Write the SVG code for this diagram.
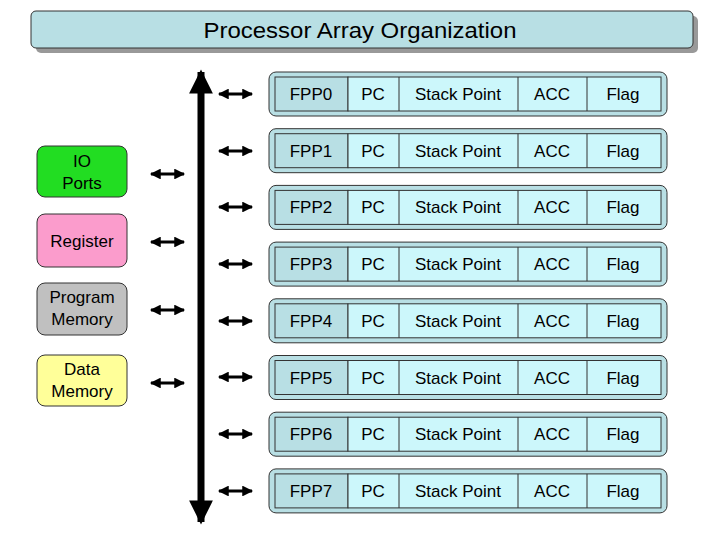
<svg xmlns="http://www.w3.org/2000/svg" width="720" height="540" viewBox="0 0 720 540">
<defs>
<style>
text{font-family:"Liberation Sans",Arial,sans-serif;fill:#000}
.row{fill:#b8dfe4;stroke:#333;stroke-width:1}
.in{fill:#ccf7fb;stroke:#333;stroke-width:1}
.id{fill:#b8dfe4;stroke:#333;stroke-width:1}
.c{font-size:17px;text-anchor:middle}
.l{font-size:17px;text-anchor:middle}
.lb{stroke:#333;stroke-width:1}
.a{stroke:#000;stroke-width:3;marker-start:url(#h);marker-end:url(#h)}
</style>
<marker id="h" viewBox="0 0 10 10" refX="9" refY="5" markerWidth="4" markerHeight="3.6" orient="auto-start-reverse"><path d="M0,0L10,5L0,10z" fill="#000"/></marker>
<marker id="bh" viewBox="0 0 10 10" refX="9" refY="5" markerWidth="3.6" markerHeight="3.4" orient="auto-start-reverse"><path d="M0,0L10,5L0,10z" fill="#000"/></marker>
</defs>
<g id="title">
<rect x="36" y="16" width="662" height="37" rx="5" fill="#999"/>
<rect x="31" y="11" width="662" height="37" rx="5" fill="#b8dfe4" stroke="#333"/>
<text x="360" y="38" font-size="22" text-anchor="middle" textLength="313" lengthAdjust="spacingAndGlyphs">Processor Array Organization</text>
</g>
<g id="io"><rect class="lb" x="37" y="146" width="90" height="51" rx="8" fill="#22dd22"/><text class="l" x="82" y="167">IO</text><text class="l" x="82" y="189">Ports</text></g>
<g id="register"><rect class="lb" x="37" y="214" width="90" height="53" rx="8" fill="#fb9ccc"/><text class="l" x="82" y="247">Register</text></g>
<g id="program"><rect class="lb" x="37" y="283" width="90" height="52" rx="8" fill="#c0c0c0"/><text class="l" x="82" y="303">Program</text><text class="l" x="82" y="325">Memory</text></g>
<g id="data"><rect class="lb" x="37" y="355" width="90" height="51" rx="8" fill="#ffff99"/><text class="l" x="82" y="375">Data</text><text class="l" x="82" y="397">Memory</text></g>
<g id="connectors">
<line x1="201" y1="522" x2="201" y2="72" stroke="#000" stroke-width="7" marker-start="url(#bh)" marker-end="url(#bh)"/>
<line class="a" x1="151" y1="174" x2="184" y2="174"/>
<line class="a" x1="151" y1="242" x2="184" y2="242"/>
<line class="a" x1="151" y1="310" x2="184" y2="310"/>
<line class="a" x1="151" y1="383" x2="184" y2="383"/>
<line class="a" x1="219" y1="94" x2="252" y2="94"/>
<line class="a" x1="219" y1="151" x2="252" y2="151"/>
<line class="a" x1="219" y1="207" x2="252" y2="207"/>
<line class="a" x1="219" y1="264" x2="252" y2="264"/>
<line class="a" x1="219" y1="321" x2="252" y2="321"/>
<line class="a" x1="219" y1="377" x2="252" y2="377"/>
<line class="a" x1="219" y1="434" x2="252" y2="434"/>
<line class="a" x1="219" y1="491" x2="252" y2="491"/>
</g>
<g id="fpp0" transform="translate(0,0)"><rect class="row" x="269" y="72" width="398" height="44" rx="7"/><rect class="id" x="275" y="77" width="73" height="34"/><rect class="in" x="348" y="77" width="313" height="34"/><path d="M399,77V111M518,77V111M587,77V111" stroke="#333"/><text class="c" x="311" y="100">FPP0</text><text class="c" x="373" y="100">PC</text><text class="c" x="458" y="100">Stack Point</text><text class="c" x="552" y="100">ACC</text><text class="c" x="623" y="100">Flag</text></g>
<g id="fpp1" transform="translate(0,56.7)"><rect class="row" x="269" y="72" width="398" height="44" rx="7"/><rect class="id" x="275" y="77" width="73" height="34"/><rect class="in" x="348" y="77" width="313" height="34"/><path d="M399,77V111M518,77V111M587,77V111" stroke="#333"/><text class="c" x="311" y="100">FPP1</text><text class="c" x="373" y="100">PC</text><text class="c" x="458" y="100">Stack Point</text><text class="c" x="552" y="100">ACC</text><text class="c" x="623" y="100">Flag</text></g>
<g id="fpp2" transform="translate(0,113.4)"><rect class="row" x="269" y="72" width="398" height="44" rx="7"/><rect class="id" x="275" y="77" width="73" height="34"/><rect class="in" x="348" y="77" width="313" height="34"/><path d="M399,77V111M518,77V111M587,77V111" stroke="#333"/><text class="c" x="311" y="100">FPP2</text><text class="c" x="373" y="100">PC</text><text class="c" x="458" y="100">Stack Point</text><text class="c" x="552" y="100">ACC</text><text class="c" x="623" y="100">Flag</text></g>
<g id="fpp3" transform="translate(0,170.1)"><rect class="row" x="269" y="72" width="398" height="44" rx="7"/><rect class="id" x="275" y="77" width="73" height="34"/><rect class="in" x="348" y="77" width="313" height="34"/><path d="M399,77V111M518,77V111M587,77V111" stroke="#333"/><text class="c" x="311" y="100">FPP3</text><text class="c" x="373" y="100">PC</text><text class="c" x="458" y="100">Stack Point</text><text class="c" x="552" y="100">ACC</text><text class="c" x="623" y="100">Flag</text></g>
<g id="fpp4" transform="translate(0,226.8)"><rect class="row" x="269" y="72" width="398" height="44" rx="7"/><rect class="id" x="275" y="77" width="73" height="34"/><rect class="in" x="348" y="77" width="313" height="34"/><path d="M399,77V111M518,77V111M587,77V111" stroke="#333"/><text class="c" x="311" y="100">FPP4</text><text class="c" x="373" y="100">PC</text><text class="c" x="458" y="100">Stack Point</text><text class="c" x="552" y="100">ACC</text><text class="c" x="623" y="100">Flag</text></g>
<g id="fpp5" transform="translate(0,283.5)"><rect class="row" x="269" y="72" width="398" height="44" rx="7"/><rect class="id" x="275" y="77" width="73" height="34"/><rect class="in" x="348" y="77" width="313" height="34"/><path d="M399,77V111M518,77V111M587,77V111" stroke="#333"/><text class="c" x="311" y="100">FPP5</text><text class="c" x="373" y="100">PC</text><text class="c" x="458" y="100">Stack Point</text><text class="c" x="552" y="100">ACC</text><text class="c" x="623" y="100">Flag</text></g>
<g id="fpp6" transform="translate(0,340.2)"><rect class="row" x="269" y="72" width="398" height="44" rx="7"/><rect class="id" x="275" y="77" width="73" height="34"/><rect class="in" x="348" y="77" width="313" height="34"/><path d="M399,77V111M518,77V111M587,77V111" stroke="#333"/><text class="c" x="311" y="100">FPP6</text><text class="c" x="373" y="100">PC</text><text class="c" x="458" y="100">Stack Point</text><text class="c" x="552" y="100">ACC</text><text class="c" x="623" y="100">Flag</text></g>
<g id="fpp7" transform="translate(0,396.9)"><rect class="row" x="269" y="72" width="398" height="44" rx="7"/><rect class="id" x="275" y="77" width="73" height="34"/><rect class="in" x="348" y="77" width="313" height="34"/><path d="M399,77V111M518,77V111M587,77V111" stroke="#333"/><text class="c" x="311" y="100">FPP7</text><text class="c" x="373" y="100">PC</text><text class="c" x="458" y="100">Stack Point</text><text class="c" x="552" y="100">ACC</text><text class="c" x="623" y="100">Flag</text></g>
</svg>
